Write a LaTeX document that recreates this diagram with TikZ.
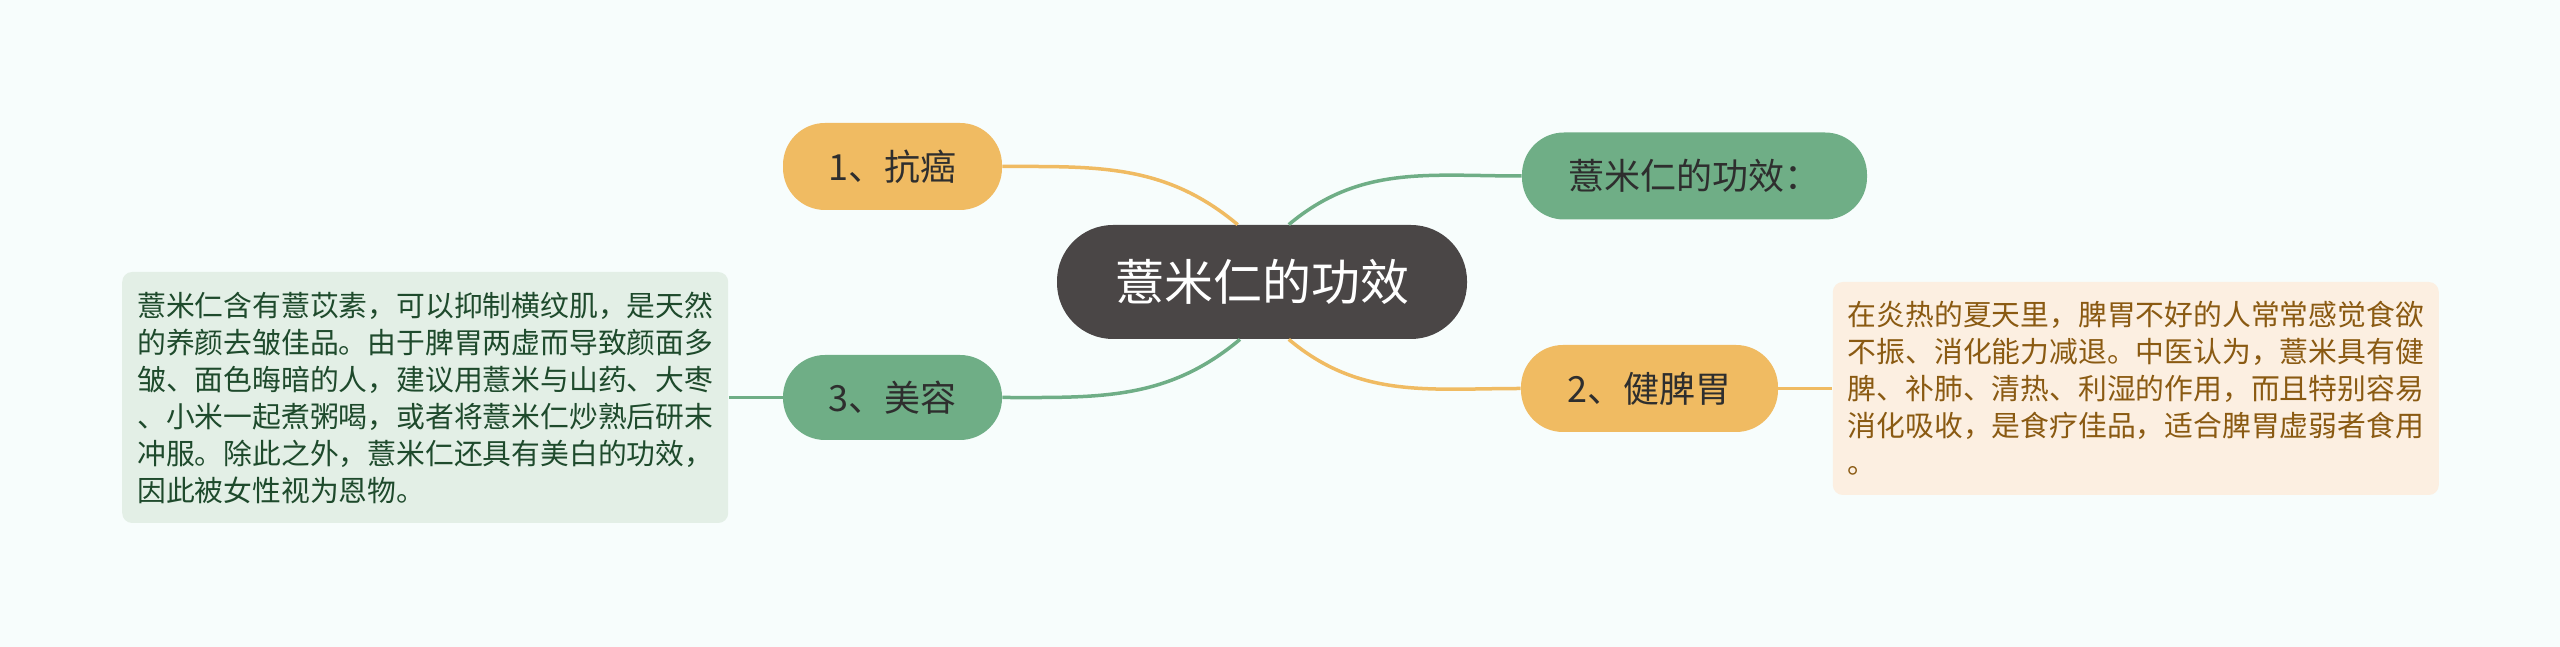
\documentclass[tikz,border=0pt]{standalone}
\usepackage{fontspec}
\setmainfont{Noto Sans CJK SC}
\usetikzlibrary{positioning}

\definecolor{fond}{HTML}{F7FDFC}
\definecolor{sombre}{HTML}{4A4646}
\definecolor{jaune}{HTML}{F0BB62}
\definecolor{vert}{HTML}{6FAE86}
\definecolor{vertpale}{HTML}{E3EFE6}
\definecolor{vertfonce}{HTML}{1E4A2C}
\definecolor{beige}{HTML}{FCEFE1}
\definecolor{brun}{HTML}{8A5A12}
\definecolor{encre}{HTML}{2E2E2E}

\tikzset{
  racine/.style={fill=sombre, text=white, rounded corners=28pt,
    minimum width=205pt, minimum height=57pt, inner sep=0pt,
    font=\fontsize{24.5pt}{30pt}\selectfont},
  branche/.style={rounded corners=21pt, minimum height=43.5pt, inner sep=0pt,
    text=encre, font=\fontsize{18pt}{22pt}\selectfont},
  boite/.style={rounded corners=5pt, align=left, text width=288pt,
    inner xsep=7.5pt, inner ysep=0pt, font=\fontsize{14.4pt}{18.5pt}\selectfont},
  lien/.style={line width=1.75pt},
}

\begin{document}
\begin{tikzpicture}[x=0.5pt,y=0.5pt]
  % fond
  \fill[fond] (0,0) rectangle (2560,647);
  \useasboundingbox (0,0) rectangle (2560,647);

  % noeud central
  \node[racine] (root) at (1262,365) {薏米仁的功效};

  % branches
  \node[branche, fill=jaune, minimum width=109.5pt] (kangai) at (892.5,480.5) {1、抗癌};
  \node[branche, fill=vert, minimum width=172.5pt] (gongxiao) at (1694.5,471) {薏米仁的功效：};
  \node[branche, fill=jaune, minimum width=128.5pt] (jianpi) at (1649.5,258.5) {2、健脾胃};
  \node[branche, fill=vert, minimum width=109.5pt, minimum height=42.5pt] (meirong) at (892.5,249.5) {3、美容};

  % textes
  \node[boite, fill=vertpale, text=vertfonce, minimum height=125.5pt, left=27pt of meirong] (texte3) {%
    薏米仁含有薏苡素，可以抑制横纹肌，是天然\\
    的养颜去皱佳品。由于脾胃两虚而导致颜面多\\
    皱、面色晦暗的人，建议用薏米与山药、大枣\\
    、小米一起煮粥喝，或者将薏米仁炒熟后研末\\
    冲服。除此之外，薏米仁还具有美白的功效，\\
    因此被女性视为恩物。};
  \node[boite, fill=beige, text=brun, minimum height=106.5pt, right=27pt of jianpi] (texte2) {%
    在炎热的夏天里，脾胃不好的人常常感觉食欲\\
    不振、消化能力减退。中医认为，薏米具有健\\
    脾、补肺、清热、利湿的作用，而且特别容易\\
    消化吸收，是食疗佳品，适合脾胃虚弱者食用\\
    。};

  % liens
  \draw[lien, jaune] (kangai.east) to[out=0, in=140] (root.113);
  \draw[lien, vert] (root.65) to[out=40, in=180] (gongxiao.west);
  \draw[lien, vert] (meirong.east) to[out=0, in=-140] (root.-111);
  \draw[lien, jaune] (root.-65) to[out=-40, in=180] (jianpi.west);
  \draw[lien, vert] (meirong.west) -- (texte3.east);
  \draw[lien, jaune] (jianpi.east) -- (texte2.west);
\end{tikzpicture}
\end{document}
